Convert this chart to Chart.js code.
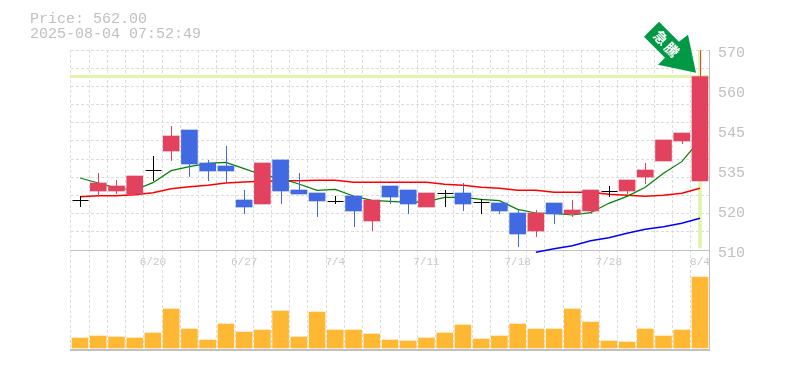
<!DOCTYPE html>
<html>
<head>
<meta charset="utf-8">
<script src="https://cdn.jsdelivr.net/npm/chart.js@4"></script>
<style>
body { margin: 0; background: #fff; }
canvas { display: block; }
</style>
</head>
<body>
<canvas id="chart-price" width="785" height="370"></canvas>
<script>
//--------------------- data ---------------------
var dates = ["6/16","6/17","6/18","6/19","6/20","6/23","6/24","6/25","6/26","6/27","6/30","7/1","7/2","7/3","7/4","7/7","7/8","7/9","7/10","7/11","7/14","7/15","7/16","7/17","7/18","7/22","7/23","7/24","7/25","7/28","7/29","7/30","7/31","8/1","8/4"];
var opens  = [524.9,527.7,527.7,526.8,533.9,539.7,546,536.1,535.2,525,523.8,537,528,527.1,524.7,526.2,518.7,529.2,528,522.9,527.1,527.1,524.4,524.1,521.1,515.7,524.1,520.8,521.7,527.7,527.7,531.9,536.7,542.7,530.7];
var closes = [524.9,530.1,529.2,532.2,533.9,544.2,535.8,533.7,533.7,522.9,536.1,527.7,526.8,524.7,524.7,521.7,525,525.9,523.8,527.1,527.1,523.8,524.4,521.7,514.8,521.1,520.8,522,528,527.7,531,534,543,545.1,562];
var highs  = [526.2,533.1,531,532.2,538.2,547.2,546,537,541.2,528,536.1,537,533.1,527.1,526.2,526.2,525,529.2,528,527.1,528,530.1,525.3,524.1,522,522,524.1,525,528,529.2,531,536.1,543,545.1,570];
var lows   = [522.9,525.9,526.8,526.8,530.7,536.7,531.9,530.7,530.1,520.8,523.8,523.8,526.8,519.9,523.8,516.9,515.7,523.8,520.8,522.9,522.9,521.7,520.8,520.8,510.9,513.9,517.8,519.9,520.8,525.9,526.8,529.8,536.7,541.8,530.7];
var volumes = [10,12,11,10,15,39,19,8,24,16,18,37,11,36,18,18,14,8,7,10,15,23,9,12,24,19,19,39,26,7,6,19,12,18,71];
var maShort = [531.6,530.1,528.6,528,530.2,533.8,535,536,536.3,534.4,532.5,531.5,529.8,527.9,528.2,526.2,524.9,524.6,524.3,524.5,525.8,525.8,525.2,524.8,522.2,521.1,521,520.5,521.2,524,526.1,528.8,533,536.5,543];
var maMid = [526,526.3,526.3,526.6,527.2,528.4,529,529.4,530.1,530.4,530.6,530.8,530.8,530.9,530.9,530.3,530.3,530.3,530.3,530.3,529.7,529.4,528.8,528.5,527.9,527.9,527.3,527.3,527.3,526.7,526.4,526.1,526.4,527,528.5];
var maLong = [null,null,null,null,null,null,null,null,null,null,null,null,null,null,null,null,null,null,null,null,null,null,null,null,null,509.3,510.4,511.3,512.8,513.7,515,516.2,517,518,519.5];
var priceTicks = [510,522,534,546,558,570];
var priceLabels = ["510","520","535","545","560","570"];
var gridTicks = [510,515.45,520.91,526.36,531.82,537.27,542.73,548.18,553.64,559.09,564.55,570];
var lastPrice = 562;
var stamp = ["Price: 562.00", "2025-08-04 07:52:49"];
var badge = ["急", "騰"];

//--------------------- colors ---------------------
var RED = "#e3425f", BLUE = "#4169e1", GREY = "#c0c0c0", DASH = "#dcdcdc", HILITE = "#e0f5a8";

var bodies = opens.map(function (o, i) { return o === closes[i] ? null : [o, closes[i]]; });
var bodyColors = opens.map(function (o, i) { return closes[i] > o ? RED : BLUE; });
var hiliteBar = dates.map(function (d, i) { return i === dates.length - 1 ? [510.6, 570] : null; });

// wicks and doji crosses sit just under the candle bodies, snapped to whole pixels
var wicks = {
    id: "wicks",
    beforeDatasetDraw: function (chart, args) {
        if (chart.data.datasets[args.index].label !== "candle") return;
        var ctx = chart.ctx, x = chart.scales.x, y = chart.scales.y;
        ctx.save();
        ctx.lineWidth = 1;
        dates.forEach(function (d, i) {
            var px = Math.round(x.getPixelForValue(i)) + 0.5;
            var doji = opens[i] === closes[i];
            ctx.strokeStyle = doji ? "#000" : bodyColors[i];
            ctx.beginPath();
            ctx.moveTo(px, y.getPixelForValue(highs[i]));
            ctx.lineTo(px, y.getPixelForValue(lows[i]));
            if (doji) {
                var py = Math.round(y.getPixelForValue(closes[i])) + 0.5;
                ctx.moveTo(px - 8, py);
                ctx.lineTo(px + 8, py);
            }
            ctx.stroke();
        });
        ctx.restore();
    }
};

// current price band, behind all the datasets
var priceBand = {
    id: "priceBand",
    beforeDatasetsDraw: function (chart) {
        var ctx = chart.ctx, a = chart.chartArea;
        var py = chart.scales.y.getPixelForValue(lastPrice);
        ctx.save();
        ctx.fillStyle = HILITE;
        ctx.fillRect(a.left, Math.round(py) - 2, a.right - a.left, 3);
        ctx.restore();
    }
};

// header text and the green arrow pointing at the last candle
var overlay = {
    id: "overlay",
    afterDraw: function (chart) {
        var ctx = chart.ctx;
        ctx.save();
        ctx.fillStyle = "#c0c0c0";
        ctx.font = "15px 'Liberation Mono'";
        ctx.textBaseline = "alphabetic";
        ctx.fillText(stamp[0], 30, 23);
        ctx.fillText(stamp[1], 30, 38);

        var tipX = chart.scales.x.getPixelForValue(dates.length - 1) - 4;
        var tipY = chart.scales.y.getPixelForValue(lastPrice) - 4;
        ctx.translate(tipX, tipY);
        ctx.fillStyle = "#009944";
        ctx.beginPath();
        ctx.moveTo(0, 0);
        ctx.lineTo(-38, -8);
        ctx.lineTo(-31, -15);
        ctx.lineTo(-52, -36);
        ctx.lineTo(-37, -51);
        ctx.lineTo(-17, -31);
        ctx.lineTo(-8, -38);
        ctx.closePath();
        ctx.fill();

        ctx.fillStyle = "#fff";
        ctx.font = "bold 14px 'Noto Sans CJK JP'";
        ctx.textAlign = "center";
        ctx.textBaseline = "middle";
        [[-35, -35], [-24, -23]].forEach(function (p, i) {
            ctx.save();
            ctx.translate(p[0], p[1]);
            ctx.rotate(Math.PI / 4);
            ctx.fillText(badge[i], 0, 0);
            ctx.restore();
        });
        ctx.restore();
    }
};

var chart_price = new Chart(document.getElementById("chart-price").getContext("2d"), {
    type: "bar",
    plugins: [wicks, priceBand, overlay],
    data: {
        labels: dates,
        datasets: [
            { type: "bar", label: "volume", data: volumes, yAxisID: "yVol", backgroundColor: "#ffb833", barThickness: 16, grouped: false, order: 6 },
            { type: "bar", label: "hilite", data: hiliteBar, backgroundColor: HILITE, barThickness: 3, grouped: false, order: 5 },
            { type: "line", label: "long", data: maLong, borderColor: "#0000ff", borderWidth: 1.5, pointRadius: 0, tension: 0, order: 4 },
            { type: "line", label: "mid", data: maMid, borderColor: "#ff0000", borderWidth: 1.5, pointRadius: 0, tension: 0, order: 3 },
            { type: "line", label: "short", data: maShort, borderColor: "#008000", borderWidth: 1.2, pointRadius: 0, tension: 0, order: 2 },
            { type: "bar", label: "candle", data: bodies, backgroundColor: bodyColors, barThickness: 16, grouped: false, order: 1 }
        ]
    },
    options: {
        responsive: false,
        animation: false,
        layout: { padding: { left: 70.9, top: 50, right: 0, bottom: 20 } },
        plugins: { legend: { display: false }, title: { display: false }, tooltip: { enabled: false } },
        scales: {
            x: {
                type: "category",
                position: { y: 510 },
                grid: { color: DASH, offset: true, drawTicks: false },
                border: { color: GREY, width: 1, dash: [3, 2] },
                ticks: {
                    color: "#c8c8c8",
                    font: { family: "'Liberation Mono'", size: 11 },
                    padding: 5,
                    autoSkip: false,
                    maxRotation: 0,
                    callback: function (v, i) { return i % 5 === 4 ? dates[i] : ""; }
                }
            },
            xBottom: {
                type: "category",
                position: "bottom",
                labels: dates,
                grid: { display: false, drawTicks: false },
                border: { color: GREY, width: 2 },
                ticks: { display: false },
                afterFit: function (s) { s.height = 0; }
            },
            y: {
                type: "linear",
                position: "left",
                min: 480,
                max: 570,
                grid: { color: DASH, drawTicks: false },
                border: { display: false, dash: [3, 2] },
                ticks: { display: false, autoSkip: false },
                afterBuildTicks: function (s) { s.ticks = gridTicks.map(function (v) { return { value: v }; }); },
                afterFit: function (s) { s.width = 0; }
            },
            yLabel: {
                type: "linear",
                position: "right",
                min: 480,
                max: 570,
                grid: { display: false, drawTicks: false },
                border: { color: GREY, width: 1 },
                afterBuildTicks: function (s) { s.ticks = priceTicks.map(function (v) { return { value: v }; }); },
                afterFit: function (s) { s.width = 75.9; },
                ticks: {
                    color: GREY,
                    font: { family: "'Liberation Mono'", size: 15 },
                    padding: 9,
                    labelOffset: 3,
                    autoSkip: false,
                    callback: function (v, i) { return priceLabels[i]; }
                }
            },
            yVol: { type: "linear", display: false, min: -2, max: 298 }
        }
    }
});
</script>
</body>
</html>
